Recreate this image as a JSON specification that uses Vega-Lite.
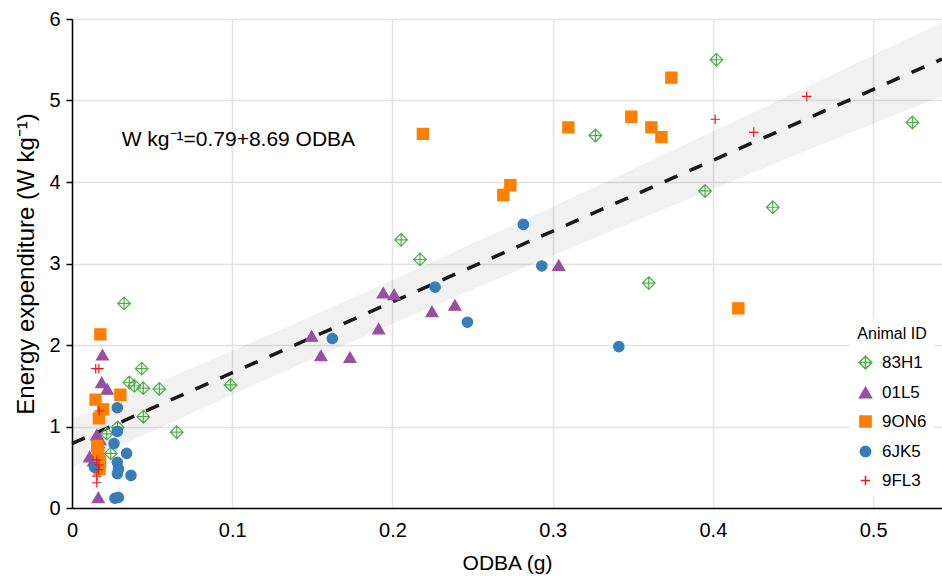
{
  "$schema": "https://vega.github.io/schema/vega-lite/v6.json",
  "width": 870,
  "height": 489,
  "autosize": {"type": "none"},
  "padding": {"left": 72, "top": 19, "right": 0, "bottom": 68},
  "background": "white",
  "config": {
    "view": {"stroke": null},
    "font": "Liberation Sans",
    "axis": {
      "domainColor": "black",
      "domainWidth": 1.5,
      "gridColor": "#e4e4e4",
      "gridWidth": 1.5,
      "labelFontSize": 20,
      "titleFontSize": 21,
      "labelColor": "black",
      "titleColor": "black",
      "titleFontWeight": "normal",
      "tickColor": "black",
      "labelFlush": false
    },
    "axisX": {"ticks": false, "tickSize": 0, "labelPadding": 12, "titlePadding": 12},
    "axisY": {"tickSize": 6, "tickWidth": 1.5, "labelPadding": 6, "titlePadding": 10, "titleFontSize": 24},
    "legend": {
      "titleFontSize": 16,
      "labelFontSize": 17,
      "titleFontWeight": "normal",
      "titleColor": "black",
      "labelColor": "black"
    }
  },
  "datasets": {
    "band": [
      {"odba": 0, "lo": 0.49, "hi": 1.09},
      {"odba": 0.05, "lo": 0.943, "hi": 1.506},
      {"odba": 0.1, "lo": 1.39, "hi": 1.928},
      {"odba": 0.15, "lo": 1.828, "hi": 2.359},
      {"odba": 0.2, "lo": 2.259, "hi": 2.797},
      {"odba": 0.25, "lo": 2.681, "hi": 3.244},
      {"odba": 0.3, "lo": 3.097, "hi": 3.697},
      {"odba": 0.35, "lo": 3.507, "hi": 4.156},
      {"odba": 0.4, "lo": 3.913, "hi": 4.619},
      {"odba": 0.45, "lo": 4.315, "hi": 5.086},
      {"odba": 0.5, "lo": 4.714, "hi": 5.556},
      {"odba": 0.543, "lo": 5.056, "hi": 5.961}
    ],
    "fit": [
      {"odba": 0, "ee": 0.79},
      {"odba": 0.543, "ee": 5.509}
    ],
    "note": [
      {"odba": 0.031, "ee": 4.51, "label": "W kg⁻¹=0.79+8.69 ODBA"}
    ],
    "pts": [
      {"id": "83H1", "odba": 0.0325, "ee": 2.51},
      {"id": "83H1", "odba": 0.2054, "ee": 3.29},
      {"id": "83H1", "odba": 0.2172, "ee": 3.05},
      {"id": "83H1", "odba": 0.3267, "ee": 4.57},
      {"id": "83H1", "odba": 0.4022, "ee": 5.5},
      {"id": "83H1", "odba": 0.3951, "ee": 3.89},
      {"id": "83H1", "odba": 0.36, "ee": 2.76},
      {"id": "83H1", "odba": 0.4374, "ee": 3.69},
      {"id": "83H1", "odba": 0.5245, "ee": 4.73},
      {"id": "83H1", "odba": 0.099, "ee": 1.51},
      {"id": "83H1", "odba": 0.0654, "ee": 0.93},
      {"id": "83H1", "odba": 0.0435, "ee": 1.71},
      {"id": "83H1", "odba": 0.0358, "ee": 1.54},
      {"id": "83H1", "odba": 0.0389, "ee": 1.5},
      {"id": "83H1", "odba": 0.0445, "ee": 1.47},
      {"id": "83H1", "odba": 0.0545, "ee": 1.46},
      {"id": "83H1", "odba": 0.0445, "ee": 1.12},
      {"id": "83H1", "odba": 0.0285, "ee": 0.99},
      {"id": "83H1", "odba": 0.0217, "ee": 0.91},
      {"id": "83H1", "odba": 0.0242, "ee": 0.67},
      {"id": "01L5", "odba": 0.1496, "ee": 2.11},
      {"id": "01L5", "odba": 0.1554, "ee": 1.87},
      {"id": "01L5", "odba": 0.1735, "ee": 1.85},
      {"id": "01L5", "odba": 0.1914, "ee": 2.2},
      {"id": "01L5", "odba": 0.1943, "ee": 2.64},
      {"id": "01L5", "odba": 0.201, "ee": 2.62},
      {"id": "01L5", "odba": 0.2247, "ee": 2.41},
      {"id": "01L5", "odba": 0.239, "ee": 2.49},
      {"id": "01L5", "odba": 0.3038, "ee": 2.98},
      {"id": "01L5", "odba": 0.019, "ee": 1.88},
      {"id": "01L5", "odba": 0.0185, "ee": 1.54},
      {"id": "01L5", "odba": 0.022, "ee": 1.46},
      {"id": "01L5", "odba": 0.0155, "ee": 0.9},
      {"id": "01L5", "odba": 0.0175, "ee": 0.84},
      {"id": "01L5", "odba": 0.0165, "ee": 0.8},
      {"id": "01L5", "odba": 0.011, "ee": 0.63},
      {"id": "01L5", "odba": 0.0165, "ee": 0.6},
      {"id": "01L5", "odba": 0.0135, "ee": 0.58},
      {"id": "01L5", "odba": 0.0164, "ee": 0.13},
      {"id": "9ON6", "odba": 0.3741, "ee": 5.28},
      {"id": "9ON6", "odba": 0.3491, "ee": 4.8},
      {"id": "9ON6", "odba": 0.3616, "ee": 4.67},
      {"id": "9ON6", "odba": 0.3679, "ee": 4.55},
      {"id": "9ON6", "odba": 0.3098, "ee": 4.67},
      {"id": "9ON6", "odba": 0.2736, "ee": 3.96},
      {"id": "9ON6", "odba": 0.2692, "ee": 3.84},
      {"id": "9ON6", "odba": 0.4159, "ee": 2.45},
      {"id": "9ON6", "odba": 0.219, "ee": 4.59},
      {"id": "9ON6", "odba": 0.0177, "ee": 2.13},
      {"id": "9ON6", "odba": 0.0147, "ee": 1.33},
      {"id": "9ON6", "odba": 0.0302, "ee": 1.39},
      {"id": "9ON6", "odba": 0.0194, "ee": 1.21},
      {"id": "9ON6", "odba": 0.0168, "ee": 1.1},
      {"id": "9ON6", "odba": 0.0158, "ee": 0.76},
      {"id": "9ON6", "odba": 0.0163, "ee": 0.72},
      {"id": "9ON6", "odba": 0.0175, "ee": 0.57},
      {"id": "9ON6", "odba": 0.0172, "ee": 0.48},
      {"id": "6JK5", "odba": 0.2817, "ee": 3.48},
      {"id": "6JK5", "odba": 0.2932, "ee": 2.97},
      {"id": "6JK5", "odba": 0.3413, "ee": 1.98},
      {"id": "6JK5", "odba": 0.1625, "ee": 2.08},
      {"id": "6JK5", "odba": 0.2266, "ee": 2.71},
      {"id": "6JK5", "odba": 0.2468, "ee": 2.28},
      {"id": "6JK5", "odba": 0.0283, "ee": 1.23},
      {"id": "6JK5", "odba": 0.0283, "ee": 0.94},
      {"id": "6JK5", "odba": 0.0262, "ee": 0.79},
      {"id": "6JK5", "odba": 0.0341, "ee": 0.67},
      {"id": "6JK5", "odba": 0.0283, "ee": 0.56},
      {"id": "6JK5", "odba": 0.029, "ee": 0.48},
      {"id": "6JK5", "odba": 0.0283, "ee": 0.42},
      {"id": "6JK5", "odba": 0.0368, "ee": 0.4},
      {"id": "6JK5", "odba": 0.0268, "ee": 0.12},
      {"id": "6JK5", "odba": 0.0289, "ee": 0.13},
      {"id": "6JK5", "odba": 0.014, "ee": 0.5},
      {"id": "9FL3", "odba": 0.0148, "ee": 1.71},
      {"id": "9FL3", "odba": 0.0168, "ee": 1.71},
      {"id": "9FL3", "odba": 0.017, "ee": 1.19},
      {"id": "9FL3", "odba": 0.0155, "ee": 0.59},
      {"id": "9FL3", "odba": 0.0168, "ee": 0.53},
      {"id": "9FL3", "odba": 0.0165, "ee": 0.47},
      {"id": "9FL3", "odba": 0.0155, "ee": 0.39},
      {"id": "9FL3", "odba": 0.0155, "ee": 0.31},
      {"id": "9FL3", "odba": 0.4014, "ee": 4.77},
      {"id": "9FL3", "odba": 0.4255, "ee": 4.61},
      {"id": "9FL3", "odba": 0.4586, "ee": 5.05}
    ]
  },
  "layer": [
    {
      "data": {"name": "band"},
      "mark": {"type": "area", "color": "#000000", "opacity": 0.055},
      "encoding": {
        "x": {
          "field": "odba", "type": "quantitative", "title": "ODBA (g)",
          "scale": {"domain": [0, 0.543], "nice": false, "zero": false},
          "axis": {"values": [0, 0.1, 0.2, 0.3, 0.4, 0.5], "format": "~g"}
        },
        "y": {
          "field": "lo", "type": "quantitative", "title": "Energy expenditure (W kg⁻¹)",
          "scale": {"domain": [0, 6], "nice": false},
          "axis": {"values": [0, 1, 2, 3, 4, 5, 6]}
        },
        "y2": {"field": "hi"}
      }
    },
    {
      "data": {"name": "fit"},
      "mark": {"type": "line", "color": "#1a1a1a", "strokeWidth": 3.5, "strokeDash": [14, 13]},
      "encoding": {
        "x": {"field": "odba", "type": "quantitative", "title": "ODBA (g)", "axis": {"values": [0, 0.1, 0.2, 0.3, 0.4, 0.5], "format": "~g"}},
        "y": {"field": "ee", "type": "quantitative", "title": "Energy expenditure (W kg⁻¹)", "axis": {"values": [0, 1, 2, 3, 4, 5, 6]}}
      }
    },
    {
      "data": {"name": "pts"},
      "mark": {"type": "point", "opacity": 1, "strokeWidth": 1.2},
      "encoding": {
        "x": {"field": "odba", "type": "quantitative", "title": "ODBA (g)", "axis": {"values": [0, 0.1, 0.2, 0.3, 0.4, 0.5], "format": "~g"}},
        "y": {"field": "ee", "type": "quantitative", "title": "Energy expenditure (W kg⁻¹)", "axis": {"values": [0, 1, 2, 3, 4, 5, 6]}},
        "shape": {
          "field": "id", "type": "nominal", "title": "Animal ID",
          "scale": {
            "domain": ["83H1", "01L5", "9ON6", "6JK5", "9FL3"],
            "range": ["M0,-1L1,0L0,1L-1,0ZM0,-1L0,1M-1,0L1,0", "triangle-up", "square", "circle", "M-1,0L1,0M0,-1L0,1"]
          },
          "legend": {
            "orient": "none", "legendX": 778, "legendY": 300,
            "fillColor": "white", "padding": 7, "rowPadding": 11,
            "titleAnchor": "middle", "titlePadding": 12, "labelOffset": 8
          }
        },
        "stroke": {
          "field": "id", "type": "nominal", "title": "Animal ID",
          "scale": {
            "domain": ["83H1", "01L5", "9ON6", "6JK5", "9FL3"],
            "range": ["#4daf4a", "#984ea3", "#ff7f00", "#377eb8", "#e41a1c"]
          }
        },
        "fill": {
          "field": "id", "type": "nominal", "title": "Animal ID",
          "scale": {
            "domain": ["83H1", "01L5", "9ON6", "6JK5", "9FL3"],
            "range": ["transparent", "#984ea3", "#ff7f00", "#377eb8", "transparent"]
          }
        },
        "size": {
          "field": "id", "type": "nominal", "title": "Animal ID",
          "scale": {
            "domain": ["83H1", "01L5", "9ON6", "6JK5", "9FL3"],
            "range": [160, 90, 72, 70, 160]
          }
        }
      }
    },
    {
      "data": {"name": "note"},
      "mark": {"type": "text", "align": "left", "baseline": "middle", "fontSize": 21, "color": "black"},
      "encoding": {
        "x": {"field": "odba", "type": "quantitative", "title": "ODBA (g)", "axis": {"values": [0, 0.1, 0.2, 0.3, 0.4, 0.5], "format": "~g"}},
        "y": {"field": "ee", "type": "quantitative", "title": "Energy expenditure (W kg⁻¹)", "axis": {"values": [0, 1, 2, 3, 4, 5, 6]}},
        "text": {"field": "label"}
      }
    }
  ]
}
